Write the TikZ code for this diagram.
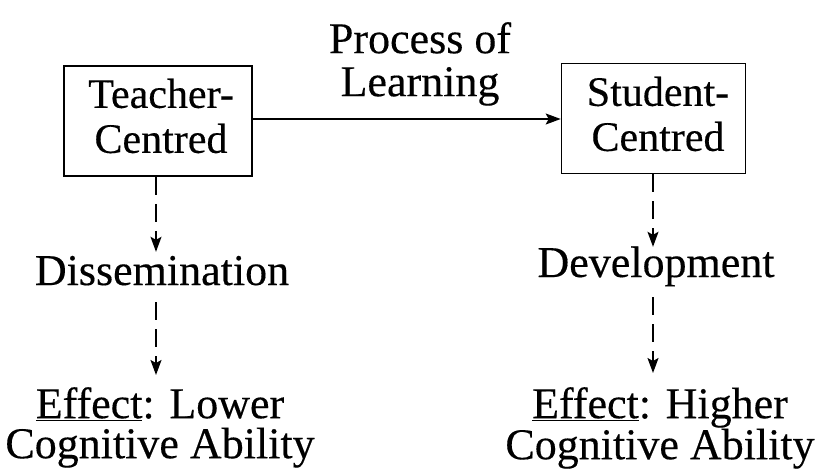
\documentclass[tikz,border=0pt]{standalone}
\usepackage{fontspec}
\setmainfont{Liberation Serif}[FakeBold=0.3]
\usetikzlibrary{arrows.meta}
\begin{document}
\begin{tikzpicture}[x=1pt,y=1pt,
  every node/.style={font=\fontsize{44}{43}\selectfont},
  boxnode/.style={draw,line width=1.6pt,inner sep=0pt},
  boxtext/.style={align=center,inner sep=0pt,font=\fontsize{42}{45}\selectfont},
  label node/.style={inner sep=0pt,text height=30pt,text depth=9pt},
  multi/.style={inner sep=0pt,align=center},
  effect/.style={multi,font=\fontsize{44}{40}\selectfont},
  tipstyle/.style={-{Stealth[length=15pt,width=11pt,inset=3pt]}},
  solidarrow/.style={tipstyle,line width=1.5pt},
  dasharrow/.style={tipstyle,line width=1.5pt,dash pattern=on 18pt off 9pt}]
\useasboundingbox (0,0) rectangle (816,-471);
\fill[white] (0,0) rectangle (816,-471);
% boxes
\node[boxnode,minimum width=188pt,minimum height=110pt] (L) at (158,-121) {};
\node[boxnode,minimum width=184pt,minimum height=110pt] (R) at (653.5,-118.5) {};
\node[boxtext] (Lt) at (161,-116) {Teacher-\\Centred};
\node[boxtext] (Rt) at (658,-114) {Student-\\Centred};
% top label
\node[multi,anchor=north] (P) at (420,-22) {Process of\\Learning};
% middle labels
\node[label node,anchor=base] (D) at (162,-285) {Dissemination};
\node[label node,anchor=base] (V) at (656,-277) {Development};
% effects
\node[effect,anchor=north] (EL) at (160,-387) {\underline{Effect}: Lower\\Cognitive Ability};
\node[effect,anchor=north] (EH) at (660,-387) {\underline{Effect}: Higher\\Cognitive Ability};
% connectors
\draw[solidarrow] (L.east |- 0,-119) -- (R.west |- 0,-119);
\draw[dasharrow,shorten >=3pt] (L.south -| 156,0) -- (D.north -| 156,0);
\draw[dasharrow,shorten <=8pt,shorten >=12pt] (D.south -| 156,0) -- (EL.north -| 156,0);
\draw[dasharrow,shorten >=0pt] (R.south -| 653,0) -- (V.north -| 653,0);
\draw[dasharrow,shorten <=11pt,shorten >=14pt] (V.south -| 653,0) -- (EH.north -| 653,0);
\end{tikzpicture}
\end{document}
